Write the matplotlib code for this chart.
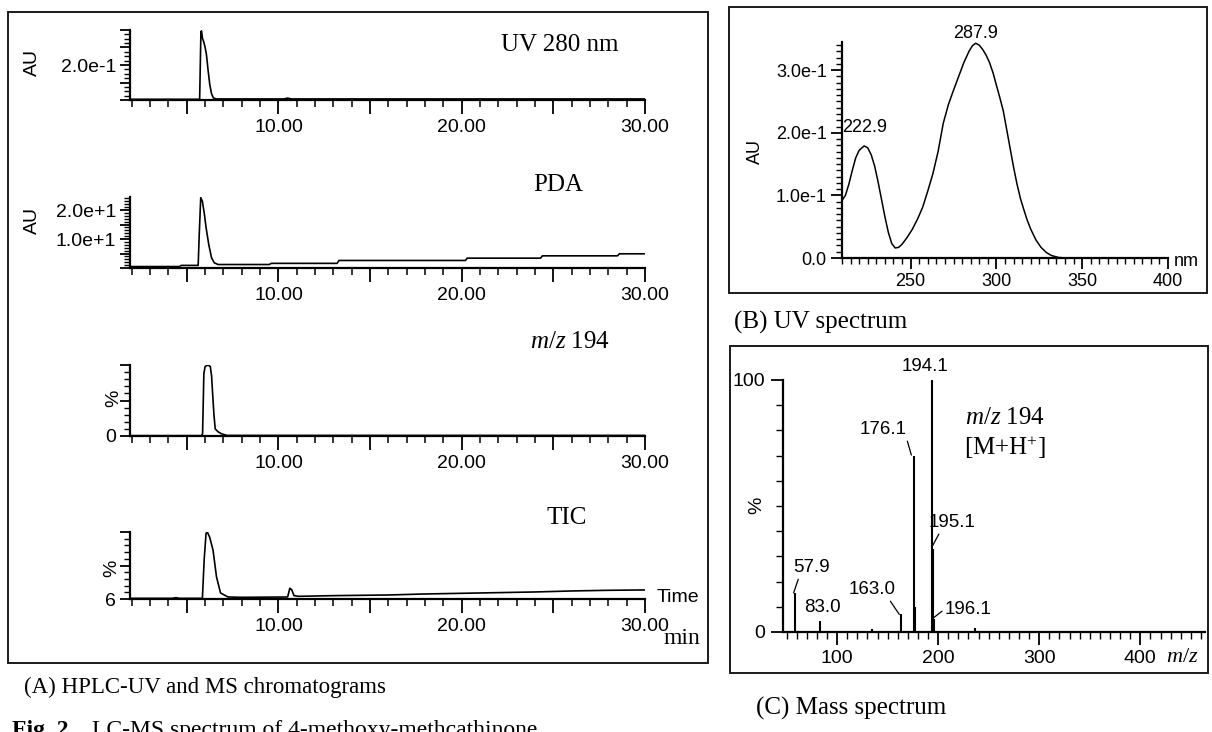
import matplotlib
matplotlib.use('Agg')
import matplotlib.pyplot as plt
from matplotlib.ticker import MultipleLocator, FixedLocator, FuncFormatter
from matplotlib.patches import Rectangle

W, H = 1212, 732
SANS = 'Liberation Sans'
SERIF = 'Liberation Serif'
plt.rcParams['font.family'] = [SANS, 'DejaVu Sans']
plt.rcParams['mathtext.fontset'] = 'custom'
plt.rcParams['mathtext.rm'] = SERIF
plt.rcParams['mathtext.it'] = SERIF + ':italic'

# ---------------- data ----------------
# (A) chromatograms, time in min
uv_time = [1.9, 5.70, 5.77, 5.80, 5.86, 5.93, 6.00, 6.07, 6.15, 6.25, 6.35, 6.45, 6.60, 10.3, 10.5, 10.7, 30.0]
uv_abs = [0.004, 0.004, 0.39, 0.395, 0.35, 0.33, 0.30, 0.26, 0.18, 0.09, 0.035, 0.012, 0.006, 0.006, 0.011, 0.006, 0.006]

pda_time = [1.9, 4.6, 4.7, 5.62, 5.68, 5.76, 5.85, 5.95, 6.05, 6.2, 6.35, 6.5, 6.7, 9.5, 9.6, 13.2, 13.3,
            20.2, 20.3, 24.3, 24.4, 28.5, 28.6, 30.0]
pda_au = [0.5, 0.5, 0.9, 0.9, 12.0, 24.3, 23.0, 19.0, 14.0, 8.0, 3.5, 1.8, 1.2, 1.2, 1.6, 1.6, 2.6,
          2.6, 3.4, 3.4, 4.2, 4.2, 4.9, 4.9]

mz194_time = [1.9, 5.80, 5.86, 5.93, 6.00, 6.15, 6.28, 6.35, 6.42, 6.48, 6.55, 6.70, 6.90, 7.20, 30.0]
mz194_pct = [0.5, 0.5, 3.0, 88.0, 98.0, 100.0, 98.0, 85.0, 55.0, 30.0, 10.0, 6.0, 3.0, 0.8, 0.8]

tic_time = [1.9, 4.2, 4.4, 4.6, 5.85, 5.95, 6.05, 6.12, 6.25, 6.43, 6.62, 6.84, 7.25, 8.0, 10.5, 10.62,
            10.72, 10.85, 11.1, 13.0, 16.0, 18.0, 20.0, 22.0, 24.0, 26.0, 28.0, 30.0]
tic_pct = [1.0, 1.0, 2.0, 1.0, 1.0, 60.0, 98.0, 100.0, 92.0, 73.0, 33.0, 9.0, 3.0, 2.5, 3.0, 16.0,
           14.0, 5.0, 4.0, 5.0, 6.0, 7.5, 8.5, 9.5, 10.5, 12.0, 13.0, 13.5]

# (B) UV spectrum
uv_nm = [210, 212, 214, 216, 218, 220, 222.9, 225, 227, 229, 231, 233, 235, 237, 239, 241, 243, 245,
         248, 251, 254, 257, 260, 263, 266, 269, 272, 275, 278, 281, 284, 286, 287.9, 290, 292, 294,
         296, 298, 300, 302, 304, 306, 308, 310, 312, 314, 316, 318, 320, 323, 326, 329, 332, 336,
         340, 400]
uv_au = [0.092, 0.100, 0.118, 0.140, 0.160, 0.172, 0.179, 0.176, 0.165, 0.147, 0.122, 0.094, 0.066,
         0.041, 0.023, 0.016, 0.017, 0.022, 0.033, 0.046, 0.062, 0.081, 0.107, 0.135, 0.170, 0.215,
         0.245, 0.268, 0.290, 0.312, 0.330, 0.339, 0.343, 0.340, 0.333, 0.324, 0.312, 0.296, 0.276,
         0.256, 0.235, 0.205, 0.175, 0.145, 0.118, 0.095, 0.077, 0.060, 0.046, 0.029, 0.017, 0.009,
         0.004, 0.001, 0.0, 0.0]

# (C) mass spectrum
ms_mz = [57.9, 83.0, 135.0, 163.0, 176.1, 177.1, 194.1, 195.1, 196.1, 236.0]
ms_int = [15.5, 4.4, 1.0, 7.0, 70.0, 10.0, 100.0, 33.0, 5.0, 1.5]

fig = plt.figure(figsize=(W / 100, H / 100), dpi=100)
fig.patch.set_facecolor('white')


def ax_px(x0, y0, x1, y1):
    ax = fig.add_axes([x0 / W, 1 - y1 / H, (x1 - x0) / W, (y1 - y0) / H])
    ax.patch.set_alpha(0)
    for s in ('top', 'right'):
        ax.spines[s].set_visible(False)
    for s in ('left', 'bottom'):
        ax.spines[s].set_linewidth(1.6)
    return ax


def box_px(x0, y0, x1, y1):
    fig.add_artist(Rectangle((x0 / W, 1 - y1 / H), (x1 - x0) / W, (y1 - y0) / H,
                             transform=fig.transFigure, fill=False, lw=1.4, ec='#1a1a1a'))


def ftext(x, y, s, **kw):
    fig.text(x / W, 1 - y / H, s, **kw)


# ---------------- panel A ----------------
box_px(8, 12, 708, 663)


def chrom(rect, t, y, ymax, ymaj, ymin, ylab):
    ax = ax_px(*rect)
    ax.plot(t, y, color='k', lw=1.2)
    ax.set_xlim(1.9, 30)
    ax.set_ylim(0, ymax)
    ax.xaxis.set_major_locator(MultipleLocator(5))
    ax.xaxis.set_minor_locator(MultipleLocator(1))
    ax.xaxis.set_major_formatter(FuncFormatter(
        lambda v, p: f'{v:.2f}' if v > 0 and abs(v / 10 - round(v / 10)) < 1e-6 else ''))
    ax.yaxis.set_major_locator(MultipleLocator(ymaj))
    ax.yaxis.set_minor_locator(MultipleLocator(ymin))
    ax.yaxis.set_major_formatter(FuncFormatter(
        lambda v, p: next((lab for val, lab in ylab if abs(v - val) < 1e-9), '')))
    ax.tick_params(axis='x', which='major', length=10, width=1.3, pad=4, labelsize=14)
    ax.tick_params(axis='x', which='minor', length=5, width=1.1)
    ax.tick_params(axis='y', which='major', length=7, width=1.3, pad=3, labelsize=14)
    ax.tick_params(axis='y', which='minor', length=4, width=1.0)
    return ax


chrom((130, 30, 645, 100), uv_time, uv_abs, 0.4, 0.1, 0.025, [(0.2, '2.0e-1')])
chrom((130, 197, 645, 268), pda_time, pda_au, 24.5, 5, 1, [(10, '1.0e+1'), (20, '2.0e+1')])
chrom((130, 365, 645, 436), mz194_time, mz194_pct, 100, 50, 10, [(0, '0')])
chrom((130, 532, 645, 599), tic_time, tic_pct, 100, 50, 10, [(0, '6')])

ftext(32, 63, 'AU', rotation=90, ha='center', va='center', fontsize=14)
ftext(32, 220, 'AU', rotation=90, ha='center', va='center', fontsize=14)
ftext(114, 398, '%', rotation=90, ha='center', va='center', fontsize=14)
ftext(112, 568, '%', rotation=90, ha='center', va='center', fontsize=14)

ftext(560, 45, 'UV 280 nm', ha='center', va='center', fontsize=18, family=SERIF)
ftext(558, 185, 'PDA', ha='center', va='center', fontsize=18, family=SERIF)
ftext(570, 342, '$m/z$ 194', ha='center', va='center', fontsize=18, family=SERIF)
ftext(567, 518, 'TIC', ha='center', va='center', fontsize=18, family=SERIF)
ftext(657, 598, 'Time', ha='left', va='center', fontsize=14)
ftext(682, 638, 'min', ha='center', va='center', fontsize=17, family=SERIF)

ftext(24, 687, '(A) HPLC-UV and MS chromatograms', ha='left', va='center', fontsize=16.5, family=SERIF)

# ---------------- panel B ----------------
box_px(729, 7, 1207, 293)
axB = ax_px(842, 42, 1168, 258)
axB.plot(uv_nm, uv_au, color='k', lw=1.1)
axB.set_xlim(210, 400)
axB.set_ylim(0, 0.345)
axB.xaxis.set_major_locator(FixedLocator([250, 300, 350, 400]))
axB.xaxis.set_minor_locator(MultipleLocator(5))
axB.yaxis.set_major_locator(FixedLocator([0, 0.1, 0.2, 0.3]))
axB.yaxis.set_major_formatter(FuncFormatter(
    lambda v, p: {0: '0.0', 1: '1.0e-1', 2: '2.0e-1', 3: '3.0e-1'}.get(int(round(v * 10)), '')))
axB.yaxis.set_minor_locator(MultipleLocator(0.01))
axB.tick_params(axis='both', which='major', length=8, width=1.3, pad=3, labelsize=13)
axB.tick_params(axis='both', which='minor', length=4, width=1.0)
axB.annotate('287.9', xy=(287.9, 0.343), xytext=(287.9, 0.359), ha='center', va='center',
             fontsize=13, annotation_clip=False)
axB.annotate('222.9', xy=(222.9, 0.179), xytext=(223.4, 0.208), ha='center', va='center',
             fontsize=13, annotation_clip=False)
ftext(755, 152, 'AU', rotation=90, ha='center', va='center', fontsize=13)
ftext(1174, 261, 'nm', ha='left', va='center', fontsize=13)
ftext(734, 322, '(B) UV spectrum', ha='left', va='center', fontsize=18, family=SERIF)

# ---------------- panel C ----------------
box_px(730, 346, 1208, 673)
axC = ax_px(783, 380, 1205, 632)
axC.vlines(ms_mz, 0, ms_int, color='k', lw=1.5)
axC.set_xlim(46.5, 464)
axC.set_ylim(0, 100)
axC.xaxis.set_major_locator(FixedLocator([100, 200, 300, 400]))
axC.xaxis.set_minor_locator(MultipleLocator(10))
axC.yaxis.set_major_locator(FixedLocator([0, 100]))
axC.yaxis.set_minor_locator(MultipleLocator(10))
axC.tick_params(axis='both', which='major', length=9, width=1.3, pad=4, labelsize=14)
axC.tick_params(axis='both', which='minor', length=5, width=1.0)

ann = dict(fontsize=13.5, ha='center', va='center', annotation_clip=False)
line = dict(arrowstyle='-', lw=0.9, color='k', shrinkA=0, shrinkB=0)
axC.annotate('194.1', xy=(194.1, 100), xytext=(187.1, 105.2), **ann)
axC.annotate('176.1', xy=(173.5, 70.2), xytext=(145.5, 80.2),
             arrowprops=dict(line, relpos=(1.0, 0.0)), **ann)
axC.annotate('195.1', xy=(193.5, 33.5), xytext=(213.7, 43.3),
             arrowprops=dict(line, relpos=(0.25, 0.0)), **ann)
axC.annotate('57.9', xy=(57.0, 15.5), xytext=(75.2, 25.4),
             arrowprops=dict(line, relpos=(0.15, 0.0)), **ann)
axC.annotate('83.0', xy=(83.0, 4.4), xytext=(85.1, 9.9), **ann)
axC.annotate('163.0', xy=(161.5, 7.0), xytext=(134.6, 16.7),
             arrowprops=dict(line, relpos=(0.85, 0.0)), **ann)
axC.annotate('196.1', xy=(195.0, 5.5), xytext=(229.7, 9.1),
             arrowprops=dict(line, relpos=(0.0, 0.5)), **ann)

ftext(757, 505, '%', rotation=90, ha='center', va='center', fontsize=14)
ftext(1005, 418, '$m/z$ 194', ha='center', va='center', fontsize=18, family=SERIF)
ftext(1005, 448, '[M+H$^{+}$]', ha='center', va='center', fontsize=18, family=SERIF)
ftext(1182, 657, '$m/z$', ha='center', va='center', fontsize=16, family=SERIF)
ftext(756, 708, '(C) Mass spectrum', ha='left', va='center', fontsize=18, family=SERIF)

# ---------------- figure caption (cut at bottom, as in the source) ----------------
ftext(12, 720, r'Fig. 2', ha='left', va='top', fontsize=17, family=SERIF, fontweight='bold')
ftext(92, 720, 'LC-MS spectrum of 4-methoxy-methcathinone', ha='left', va='top',
      fontsize=17, family=SERIF)

fig.savefig('out.png', dpi=100, facecolor='white')
